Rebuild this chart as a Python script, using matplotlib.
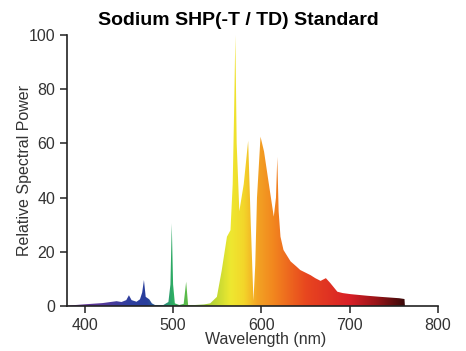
import numpy as np
import matplotlib
matplotlib.use("Agg")
import matplotlib.pyplot as plt
from matplotlib.colors import LinearSegmentedColormap

plt.rcParams['font.family'] = ['Liberation Sans', 'DejaVu Sans']

# Spectrum (wavelength nm, relative power)
wavelength = [380, 390, 402, 420, 436, 441.6, 447, 450, 453, 458.6, 462.5, 465, 467, 469,
              473, 476, 479.5, 489, 494.7, 497, 498.5, 500, 502, 507, 512, 514.8, 517, 525,
              535, 542, 549.6, 555, 561, 565, 567.5, 569, 570.5, 572, 575, 580, 585, 588,
              591, 593, 595, 599, 603, 608, 614, 616.5, 618, 619.5, 621.6, 625, 633, 640,
              644, 655.7, 661, 667, 673, 678, 686, 692, 701, 720, 735, 756, 762, 762.5]
power = [0.2, 0.4, 0.7, 1.1, 1.8, 1.5, 2.2, 4.0, 2.2, 1.6, 2.5, 5.0, 9.6, 3.4,
         2.5, 1.0, 0.4, 0.4, 1.5, 8.0, 30.5, 8.0, 1.0, 0.4, 0.8, 9.0, 0.4, 0.4,
         0.6, 1.0, 3.4, 13.0, 25.6, 28.0, 45.0, 70.0, 100.0, 60.0, 35.0, 45.0, 61.0, 30.0,
         2.0, 15.0, 40.0, 62.5, 57.0, 46.0, 33.0, 40.0, 55.0, 35.0, 25.6, 20.7, 16.5, 14.5,
         13.3, 11.4, 10.3, 9.3, 10.3, 8.5, 5.3, 4.8, 4.4, 3.8, 3.4, 2.9, 2.6, 0.0]

x_ticks = [400, 500, 600, 700, 800]
y_ticks = [0, 20, 40, 60, 80, 100]

title = "Sodium SHP(-T / TD) Standard"
x_label = "Wavelength (nm)"
y_label = "Relative Spectral Power"

# spectral colour stops (nm, colour)
spec_nm = [380, 420, 450, 470, 485, 500, 520, 545, 565, 580, 595, 615, 650, 700, 730, 762]
spec_col = ["#6a2c8e", "#553a9a", "#2f3f9f", "#283d9c", "#2a7a8a", "#2eb060", "#6cc040",
            "#b8d434", "#eee830", "#f3d62a", "#f3a424", "#f2841e", "#e8471f", "#d81f26",
            "#9a1418", "#3a0a0a"]

fig = plt.figure(figsize=(4.66, 3.51), dpi=100)
ax = fig.add_axes([0.144, 0.128, 0.796, 0.772])

xmin, xmax = 380, 800
pos = [(n - spec_nm[0]) / (spec_nm[-1] - spec_nm[0]) for n in spec_nm]
cmap = LinearSegmentedColormap.from_list("spec", list(zip(pos, spec_col)))

poly = ax.fill_between(wavelength, power, 0, color="none", lw=0)
grad = np.linspace(0, 1, 512).reshape(1, -1)
im = ax.imshow(grad, extent=[spec_nm[0], spec_nm[-1], 0, 101], aspect="auto",
               cmap=cmap, origin="lower", interpolation="bilinear", zorder=2)
path = poly.get_paths()[0]
im.set_clip_path(path, transform=ax.transData)

ax.set_xlim(xmin, xmax)
ax.set_ylim(0, 100)
ax.set_xticks(x_ticks)
ax.set_yticks(y_ticks)
ax.spines['top'].set_visible(False)
ax.spines['right'].set_visible(False)
for s in ['left', 'bottom']:
    ax.spines[s].set_linewidth(1.2)
    ax.spines[s].set_color("#222222")
ax.tick_params(direction='out', length=5, width=1.1, labelsize=11.5, colors="#222222",
               labelcolor="#333333")
ax.set_title(title, fontsize=14, fontweight='bold', pad=7, x=0.462)
ax.set_xlabel(x_label, fontsize=11.5, color="#333333")
ax.set_ylabel(y_label, fontsize=11.5, color="#333333")
ax.xaxis.set_label_coords(0.535, -0.097)
ax.yaxis.set_label_coords(-0.095, 0.5)

fig.savefig("out.png", dpi=100)
